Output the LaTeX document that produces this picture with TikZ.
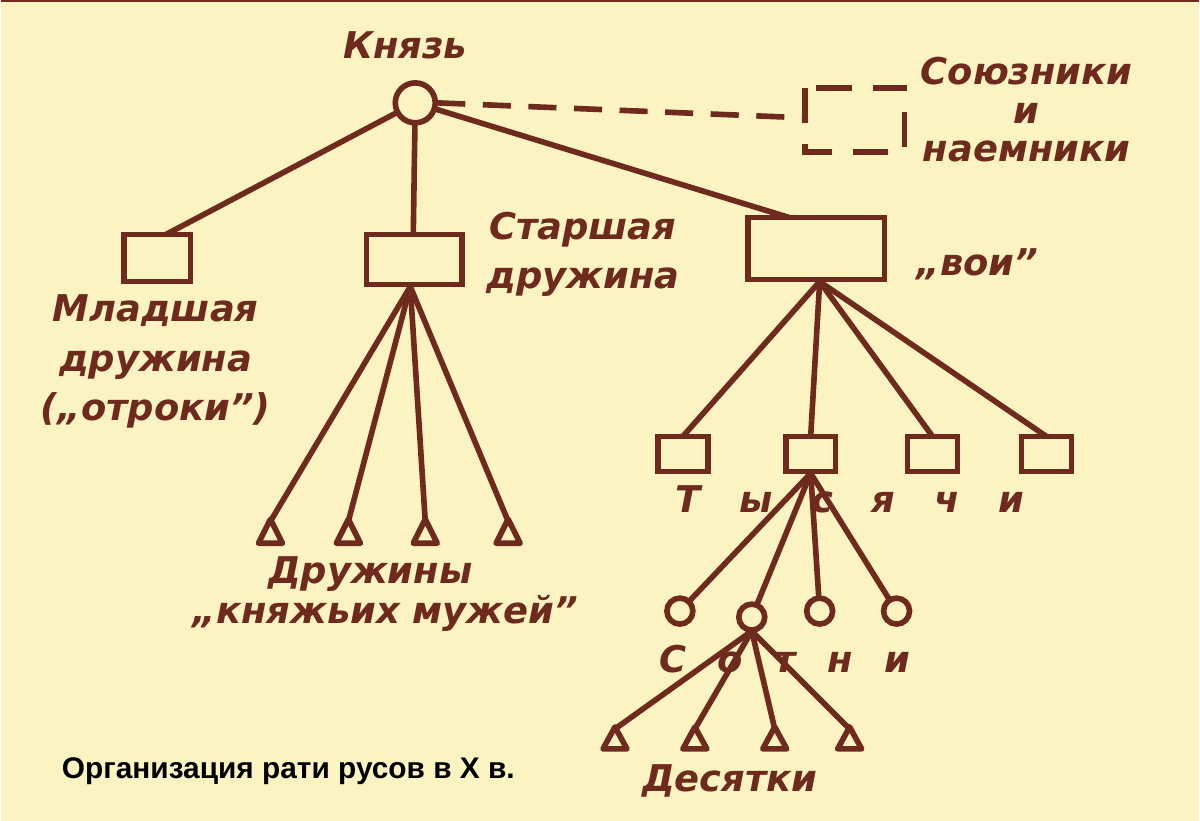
\documentclass[tikz,border=0pt]{standalone}
\usepackage{fontspec}
\setmainfont{DejaVu Sans}
\newfontfamily\capfont{Liberation Sans}
\definecolor{bg}{HTML}{FBF3C2}
\definecolor{ink}{HTML}{6E2A1C}
\begin{document}
\begin{tikzpicture}[x=0.02cm,y=-0.02cm,
  ln/.style={draw=ink,line width=3.2pt},
  bx/.style={draw=ink,line width=3.2pt,fill=bg},
  lab/.style={text=ink,font=\fontsize{21}{28}\selectfont\bfseries\itshape,align=center},
  tri/.style={draw=ink,line width=3.2pt,fill=bg,line join=round}]
\fill[bg] (0,0) rectangle (1200,822);
\draw[ink,line width=1pt] (0,1) -- (1200,1);
% top
\node[lab] (kn) at (405,45) {Князь};
\coordinate (c0) at (415,103);
\node[lab,anchor=west] (sn) at (915,110) {Союзники\\[-6pt]и\\[-6pt]наемники};
\draw[ink,line width=3.2pt,dash pattern=on 20pt off 12pt] (805,88) rectangle (905,152);
\coordinate (sbl) at (805,118);
\draw[ln,dash pattern=on 16pt off 10pt] (437,103) -- (sbl);
% boxes level 1
\coordinate (b1t) at (165,235);
\coordinate (b2t) at (413,235);
\coordinate (b3t) at (790,218);
\draw[ln] (c0) -- (b1t);
\draw[ln] (c0) -- (b2t);
\draw[ln] (c0) -- (b3t);
\draw[bx] (123,235) rectangle (190,282);
\draw[bx] (366,235) rectangle (462,285);
\draw[bx] (748,218) rectangle (885,280);
\draw[bx] (c0) circle (20);
\node[lab] (ml) at (155,362) {Младшая\\дружина\\(,,отроки'')};
\node[lab,anchor=west] (st) at (480,255) {Старшая\\дружина};
\node[lab] (voi) at (978,265) {,,вои''};
% druzhiny
\coordinate (b2b) at (410,287);
\foreach \x/\n in {270/t1,348/t2,425/t3,508/t4}{
  \coordinate (\n) at (\x,522);
  \draw[ln] (b2b) -- (\n);
  \draw[tri] (\x,520) -- (\x-12,544) -- (\x+12,544) -- cycle;}
\node[lab] (dr) at (370,575) {Дружины};
\node[lab] (km) at (385,614) {,,княжьих мужей''};
% tysyachi
\coordinate (b3b) at (820,282);
\foreach \x/\n in {683/s1,811/s2,933/s3,1047/s4}{
  \coordinate (\n) at (\x,437);
  \draw[ln] (b3b) -- (\n);
  \draw[bx] (\x-25,437) rectangle (\x+25,472);}
\node[lab] (ts) at (850,500) {Т\hspace{1.05em}ы\hspace{1.05em}с\hspace{1.05em}я\hspace{1.05em}ч\hspace{1.05em}и};
% sotni
\coordinate (s2b) at (811,474);
\foreach \x/\y in {680/612,752/618,820/612,897/612}{
  \draw[ln] (s2b) -- (\x,\y);}
\foreach \x/\y in {680/612,752/618,820/612,897/612}{
  \draw[bx] (\x,\y) circle (13);}
\node[lab] (so) at (785,660) {С\hspace{0.85em}о\hspace{0.85em}т\hspace{0.85em}н\hspace{0.85em}и};
\coordinate (o2b) at (752,632);
\foreach \x in {615,695,775,850}{
  \draw[ln] (o2b) -- (\x,730);
  \draw[tri] (\x,728) -- (\x-12,750) -- (\x+12,750) -- cycle;}
\node[lab] (de) at (730,782) {Десятки};
\node[anchor=west,font=\capfont\fontsize{17}{20}\selectfont\bfseries] (cap) at (55,772) {Организация рати русов в X в.};
\end{tikzpicture}
\end{document}
